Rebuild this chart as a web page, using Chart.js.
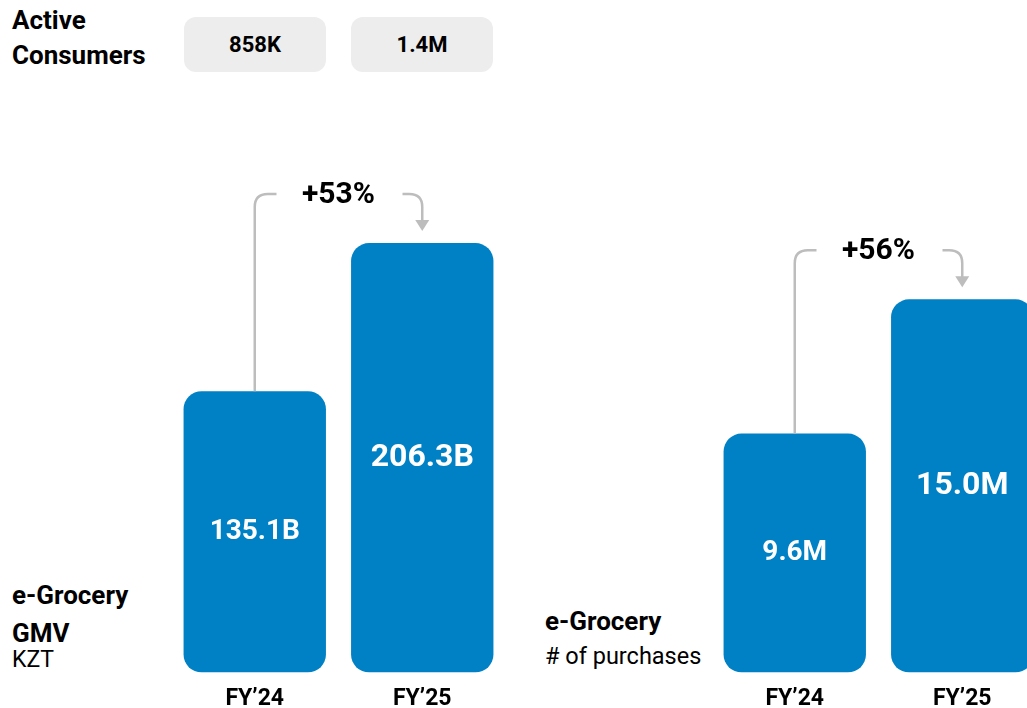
<!DOCTYPE html>
<html>
<head>
<meta charset="utf-8">
<script src="https://cdn.jsdelivr.net/npm/chart.js@4.4.1/dist/chart.umd.min.js"></script>
<style>
  body { margin: 0; width: 1027px; height: 708px; overflow: hidden; background: #fff; font-family: Roboto, "Noto Sans", sans-serif; position: relative; }
  .txt { position: absolute; color: #000; white-space: nowrap; line-height: 30px; }
  .pill { position: absolute; top: 17px; width: 142px; height: 55px; background: #ededed; border-radius: 12px;
          font-weight: bold; font-size: 22px; line-height: 55px; text-align: center; }
  canvas { position: absolute; }
</style>
</head>
<body>
<div class="txt" style="left:12px; top:3px; font-size:26px; font-weight:bold; line-height:35px;">Active<br>Consumers</div>
<div id="pills"></div>

<div class="txt" style="left:12px; top:580px; font-size:26px; font-weight:bold;">e-Grocery</div>
<div class="txt" style="left:12px; top:618px; font-size:26px; font-weight:bold;">GMV</div>
<div class="txt" style="left:12px; top:645px; font-size:23px;">KZT</div>

<div class="txt" style="left:545px; top:606px; font-size:26px; font-weight:bold;">e-Grocery</div>
<div class="txt" style="left:545px; top:641px; font-size:23.5px;">#&nbsp;of purchases</div>

<canvas id="gmvChart" width="335" height="626" style="left:171px; top:100px;"></canvas>
<canvas id="purchChart" width="335" height="626" style="left:711px; top:100px;"></canvas>

<script>
const years = ['FY’24', 'FY’25'];
const consumers = ['858K', '1.4M'];
const gmvValues = [135.1, 206.3];
const gmvLabels = ['135.1B', '206.3B'];
const gmvGrowth = '+53%';
const purchaseValues = [9.6, 15.0];
const purchaseLabels = ['9.6M', '15.0M'];
const purchaseGrowth = '+56%';

// active consumer pills above the GMV bars
const pillBox = document.getElementById('pills');
consumers.forEach(function (c, i) {
    const d = document.createElement('div');
    d.className = 'pill';
    d.style.left = (184 + i * 167) + 'px';
    d.textContent = c;
    pillBox.appendChild(d);
});

const barDecor = {
    id: 'barDecor',
    afterDatasetsDraw(chart) {
        const ctx = chart.ctx;
        const bars = chart.getDatasetMeta(0).data;
        const opts = chart.options.plugins.barDecor;
        ctx.save();
        ctx.fillStyle = '#fff';
        ctx.textAlign = 'center';
        ctx.textBaseline = 'middle';
        bars.forEach(function (b, i) {
            ctx.font = 'bold ' + opts.fontSizes[i] + 'px Roboto';
            ctx.fillText(opts.labels[i], b.x, (b.y + b.base) / 2);
        });

        // growth arrow from first bar to second
        const a = bars[0], b = bars[1];
        const lineY = b.y - 49;
        const r = 13;
        const midX = (a.x + b.x) / 2;
        ctx.strokeStyle = '#bdbdbd';
        ctx.fillStyle = '#bdbdbd';
        ctx.lineWidth = 2.5;
        ctx.beginPath();
        ctx.moveTo(a.x, a.y);
        ctx.lineTo(a.x, lineY + r);
        ctx.quadraticCurveTo(a.x, lineY, a.x + r, lineY);
        ctx.lineTo(midX - 62, lineY);
        ctx.stroke();

        const tipY = b.y - 12;
        ctx.beginPath();
        ctx.moveTo(midX + 64, lineY);
        ctx.lineTo(b.x - r, lineY);
        ctx.quadraticCurveTo(b.x, lineY, b.x, lineY + r);
        ctx.lineTo(b.x, tipY - 8);
        ctx.stroke();
        ctx.beginPath();
        ctx.moveTo(b.x - 7, tipY - 11);
        ctx.lineTo(b.x + 7, tipY - 11);
        ctx.lineTo(b.x, tipY);
        ctx.closePath();
        ctx.fill();

        ctx.fillStyle = '#000';
        ctx.font = 'bold 30px Roboto';
        ctx.fillText(opts.growth, midX, lineY + 1);
        ctx.restore();
    }
};

function makeBarChart(elementId, values, labels, growth, yMax) {
    const ctx = document.getElementById(elementId).getContext('2d');
    let config = {
        type: 'bar',
        data: {
            labels: years,
            datasets: [{
                data: values,
                backgroundColor: '#0080c5',
                borderRadius: 18,
                borderSkipped: false,
                categoryPercentage: 1,
                barPercentage: 0.85
            }]
        },
        options: {
            responsive: false,
            animation: false,
            layout: { padding: { top: 50, bottom: 0, left: 0, right: 0 } },
            scales: {
                x: {
                    grid: { display: false, drawTicks: false },
                    border: { display: false },
                    ticks: { color: '#000', font: { family: 'Roboto', size: 23, weight: 'bold' }, padding: 13 }
                },
                y: { display: false, min: 0, max: yMax }
            },
            plugins: {
                legend: { display: false },
                tooltip: { enabled: false },
                barDecor: { labels: labels, growth: growth, fontSizes: [28, 32] }
            }
        },
        plugins: [barDecor]
    };
    return new Chart(ctx, config);
}

makeBarChart('gmvChart', gmvValues, gmvLabels, gmvGrowth, 251);
makeBarChart('purchChart', purchaseValues, purchaseLabels, purchaseGrowth, 21);
</script>
</body>
</html>
